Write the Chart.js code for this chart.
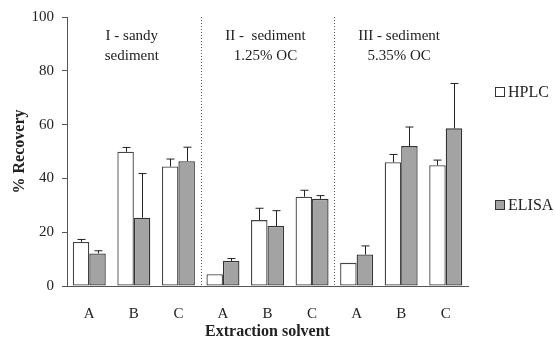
<!DOCTYPE html>
<html>
<head>
<meta charset="utf-8">
<script src="https://cdn.jsdelivr.net/npm/chart.js@4/dist/chart.umd.min.js"></script>
<style>
html,body{margin:0;padding:0;background:#fff;}
#wrap{width:555px;height:343px;}
</style>
</head>
<body>
<div id="wrap"><canvas id="c" width="555" height="343"></canvas></div>
<script>
const categories = ['A','B','C','A','B','C','A','B','C'];
const groupTitles = [['I - sandy','sediment'],['II -  sediment','1.25% OC'],['III - sediment','5.35% OC']];
const hplc = [16.4, 49.9, 44.4, 4.4, 24.5, 33.2, 8.6, 46.0, 44.9];
const hplcErr = [0.9, 1.6, 2.8, 0, 4.4, 2.4, 0, 2.9, 1.9];
const elisa = [12.1, 25.4, 46.4, 9.3, 22.3, 32.4, 11.7, 52.0, 58.6];
const elisaErr = [1.0, 16.4, 5.2, 0.9, 5.7, 1.2, 3.2, 7.1, 16.7];
const yTicks = [0, 20, 40, 60, 80, 100];

const SERIF = '"Liberation Serif", "DejaVu Serif", serif';
const INK = '#222';

const errorBars = {
  id: 'errorBars',
  afterDatasetsDraw(chart) {
    const ctx = chart.ctx;
    const y = chart.scales.y;
    const errs = [hplcErr, elisaErr];
    ctx.save();
    ctx.strokeStyle = INK;
    ctx.lineWidth = 1;
    chart.data.datasets.forEach((ds, di) => {
      const meta = chart.getDatasetMeta(di);
      meta.data.forEach((bar, i) => {
        const e = errs[di][i];
        if (!e) return;
        const x = Math.round(bar.x) + 0.5;
        const yTop = y.getPixelForValue(ds.data[i] + e);
        ctx.beginPath();
        ctx.moveTo(x, bar.y);
        ctx.lineTo(x, yTop);
        ctx.moveTo(x - 4, yTop);
        ctx.lineTo(x + 4, yTop);
        ctx.stroke();
      });
    });
    ctx.restore();
  }
};

const decorations = {
  id: 'decorations',
  afterDraw(chart) {
    const ctx = chart.ctx;
    const x = chart.scales.x;
    const area = chart.chartArea;
    const n = categories.length;
    const step = (area.right - area.left) / n;
    ctx.save();
    // dotted separators
    ctx.strokeStyle = '#555';
    ctx.lineWidth = 1;
    ctx.setLineDash([1, 2]);
    [3, 6].forEach(k => {
      const px = Math.round(area.left + k * step) + 0.5;
      ctx.beginPath();
      ctx.moveTo(px, area.top);
      ctx.lineTo(px, area.bottom);
      ctx.stroke();
    });
    ctx.setLineDash([]);
    // group titles
    ctx.fillStyle = INK;
    ctx.font = '15px ' + SERIF;
    ctx.textAlign = 'center';
    ctx.textBaseline = 'middle';
    groupTitles.forEach((t, g) => {
      const cx = (x.getPixelForValue(g * 3) + x.getPixelForValue(g * 3 + 2)) / 2 - 2;
      ctx.fillText(t[0], cx, area.top + 19);
      ctx.fillText(t[1], cx, area.top + 39);
    });
    // legend
    const items = [['HPLC', '#ffffff', 92], ['ELISA', '#a3a3a3', 205]];
    ctx.textAlign = 'left';
    ctx.font = '16px ' + SERIF;
    items.forEach(([label, fill, cy]) => {
      ctx.fillStyle = fill;
      ctx.fillRect(495.5, cy - 4.5, 9, 9);
      ctx.strokeStyle = '#333';
      ctx.strokeRect(495.5, cy - 4.5, 9, 9);
      ctx.fillStyle = INK;
      ctx.fillText(label, 508, cy + 1);
    });
    ctx.restore();
  }
};

new Chart(document.getElementById('c'), {
  type: 'bar',
  data: {
    labels: categories,
    datasets: [
      { label: 'HPLC', data: hplc, backgroundColor: '#ffffff', borderColor: '#444', borderWidth: 1.3, borderSkipped: false },
      { label: 'ELISA', data: elisa, backgroundColor: '#a3a3a3', borderColor: '#333', borderWidth: 1.3, borderSkipped: false }
    ]
  },
  options: {
    responsive: false,
    animation: false,
    devicePixelRatio: 1,
    layout: { padding: { top: 17, right: 87, left: 0, bottom: 0 } },
    datasets: { bar: { categoryPercentage: 0.74, barPercentage: 1.0 } },
    plugins: { legend: { display: false }, tooltip: { enabled: false } },
    scales: {
      x: {
        grid: { display: false, drawTicks: false },
        border: { display: true, color: '#555', width: 1 },
        ticks: { color: INK, font: { family: SERIF, size: 15 }, padding: 19 },
        title: { display: true, text: 'Extraction solvent', color: INK, font: { family: SERIF, size: 16, weight: 'bold' }, padding: { top: 0, bottom: 1.5 } },
        afterFit(s) { s.height = 57; }
      },
      y: {
        min: 0, max: 100,
        afterBuildTicks(s) { s.ticks = yTicks.map(v => ({ value: v })); },
        grid: { drawOnChartArea: false, drawTicks: true, tickLength: 5, color: '#555' },
        border: { display: true, color: '#555', width: 1 },
        ticks: { color: INK, font: { family: SERIF, size: 15 }, padding: 8 },
        title: { display: true, text: '% Recovery', color: INK, font: { family: SERIF, size: 16, weight: 'bold' }, padding: { top: 10, bottom: 0 } },
        afterFit(s) { s.width = 67; }
      }
    }
  },
  plugins: [errorBars, decorations]
});
</script>
</body>
</html>
